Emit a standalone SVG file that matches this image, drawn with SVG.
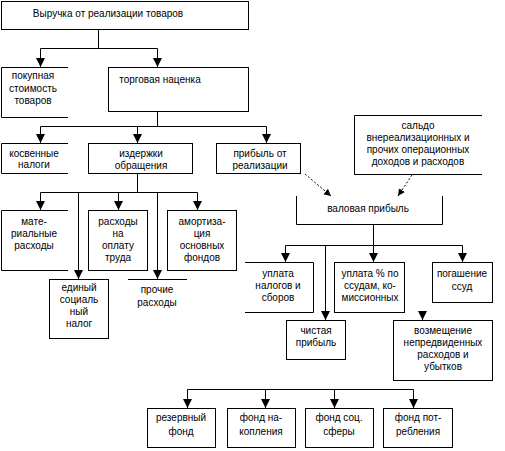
<svg xmlns="http://www.w3.org/2000/svg" width="505" height="451" viewBox="0 0 505 451">
<style>
.b{fill:none;stroke:#000;stroke-width:1}
.c{fill:none;stroke:#000;stroke-width:1}
.d{fill:none;stroke:#000;stroke-width:1;stroke-dasharray:2,2}
text{font-family:"Liberation Sans",Arial,sans-serif;font-size:10px;fill:#000;text-anchor:middle}
</style>
<defs>
<marker id="a" markerUnits="userSpaceOnUse" markerWidth="10" markerHeight="10" refX="9" refY="4.5" orient="auto">
<path d="M0,0 L9,4.5 L0,9 z" fill="#000"/>
</marker>
<marker id="s" markerUnits="userSpaceOnUse" markerWidth="8" markerHeight="8" refX="7" refY="3.5" orient="auto">
<path d="M0,0 L7,3.5 L0,7 z" fill="#000"/>
</marker>
</defs>
<rect width="505" height="451" fill="#fff"/>
<g id="connectors">
<path class="c" d="M98.5,29 V48.5 H40.5 V67" marker-end="url(#a)"/>
<path class="c" d="M98.5,48.5 H157.5 V67" marker-end="url(#a)"/>
<path class="c" d="M157.5,111 V126.5 H40.5 V143" marker-end="url(#a)"/>
<path class="c" d="M137.5,126.5 V143" marker-end="url(#a)"/>
<path class="c" d="M157.5,126.5 H266.5 V143" marker-end="url(#a)"/>
<path class="c" d="M137.5,173 V192.5 H40.5 V210" marker-end="url(#a)"/>
<path class="c" d="M118.5,192.5 V210" marker-end="url(#a)"/>
<path class="c" d="M137.5,192.5 H197.5 V210" marker-end="url(#a)"/>
<path class="c" d="M78.5,192.5 V279" marker-end="url(#a)"/>
<path class="c" d="M157.5,192.5 V279" marker-end="url(#a)"/>
<path class="d" d="M305,174 L331,196" marker-end="url(#s)"/>
<path class="d" d="M412,175 L398,196" marker-end="url(#s)"/>
<path class="c" d="M373.5,224 V245.5 H285.5 V262" marker-end="url(#a)"/>
<path class="c" d="M373.5,245.5 V262" marker-end="url(#a)"/>
<path class="c" d="M373.5,245.5 H462.5 V262" marker-end="url(#a)"/>
<path class="c" d="M325.5,245.5 V320" marker-end="url(#a)"/>
<path class="c" d="M422.5,312 V320" marker-end="url(#a)"/>
<path class="c" d="M187.5,389.5 H413.5"/>
<path class="c" d="M187.5,389.5 V408" marker-end="url(#a)"/>
<path class="c" d="M265.5,389.5 V408" marker-end="url(#a)"/>
<path class="c" d="M334.5,389.5 V408" marker-end="url(#a)"/>
<path class="c" d="M413.5,389.5 V408" marker-end="url(#a)"/>
</g>
<g id="n_vyruchka"><rect class="b" x="1.5" y="1.5" width="247" height="28"/><text x="108" y="17">Выручка от реализации товаров</text></g>
<g id="n_pokupnaya"><path class="b" d="M68,67.5 H1.5 V117.5 H68"/><text x="33" y="79">покупная</text><text x="33" y="92">стоимость</text><text x="33" y="104">товаров</text></g>
<g id="n_nacenka"><rect class="b" x="108.5" y="67.5" width="140" height="44"/><text x="160" y="83">торговая наценка</text></g>
<g id="n_kosv"><path class="b" d="M68,143.5 H1.5 V173.5 H68"/><text x="34" y="157">косвенные</text><text x="34" y="168">налоги</text></g>
<g id="n_izderzhki"><rect class="b" x="88.5" y="143.5" width="104" height="30"/><text x="141" y="157">издержки</text><text x="141" y="169">обращения</text></g>
<g id="n_pribreal"><rect class="b" x="216.5" y="143.5" width="84" height="30"/><text x="260" y="157">прибыль от</text><text x="260" y="169">реализации</text></g>
<g id="n_saldo"><path class="b" d="M482,115.5 H354.5 V174.5 H482"/><text x="418" y="129">сальдо</text><text x="418" y="141">внереализационных и</text><text x="418" y="153">прочих операционных</text><text x="418" y="165">доходов и расходов</text></g>
<g id="n_valovaya"><path class="b" d="M296.5,196 V224.5 H442.5 V196"/><text x="368" y="212">валовая прибыль</text></g>
<g id="n_mater"><path class="b" d="M68,210.5 H1.5 V270.5 H68"/><text x="34" y="225">мате-</text><text x="34" y="237">риальные</text><text x="34" y="249">расходы</text></g>
<g id="n_oplata"><rect class="b" x="88.5" y="210.5" width="59" height="60"/><text x="118" y="225">расходы</text><text x="118" y="237">на</text><text x="118" y="249">оплату</text><text x="118" y="261">труда</text></g>
<g id="n_amort"><rect class="b" x="167.5" y="210.5" width="69" height="60"/><text x="202" y="225">амортиза-</text><text x="202" y="237">ция</text><text x="202" y="249">основных</text><text x="202" y="261">фондов</text></g>
<g id="n_esn"><rect class="b" x="49.5" y="279.5" width="59" height="59"/><text x="79" y="291">единый</text><text x="79" y="303">социаль</text><text x="79" y="315">ный</text><text x="79" y="327">налог</text></g>
<g id="n_prochie"><path class="b" d="M128,279.5 H187"/><text x="157" y="293">прочие</text><text x="157" y="306">расходы</text></g>
<g id="n_nalogi"><path class="b" d="M245,262.5 H313.5 V312.5 H245"/><text x="278" y="277">уплата</text><text x="278" y="289">налогов и</text><text x="278" y="301">сборов</text></g>
<g id="n_ssudy"><rect class="b" x="334.5" y="262.5" width="70" height="50"/><text x="370" y="277">уплата % по</text><text x="370" y="289">ссудам, ко-</text><text x="370" y="301">миссионных</text></g>
<g id="n_pogash"><rect class="b" x="432.5" y="262.5" width="60" height="40"/><text x="462" y="277">погашение</text><text x="462" y="290">ссуд</text></g>
<g id="n_chistaya"><rect class="b" x="286.5" y="320.5" width="59" height="39"/><text x="316" y="334">чистая</text><text x="316" y="346">прибыль</text></g>
<g id="n_vozm"><rect class="b" x="393.5" y="320.5" width="99" height="60"/><text x="443" y="334">возмещение</text><text x="443" y="346">непредвиденных</text><text x="443" y="358">расходов и</text><text x="443" y="370">убытков</text></g>
<g id="n_rezerv"><rect class="b" x="147.5" y="408.5" width="68" height="39"/><text x="181" y="421">резервный</text><text x="181" y="435">фонд</text></g>
<g id="n_nakop"><rect class="b" x="227.5" y="408.5" width="68" height="39"/><text x="261" y="421">фонд на-</text><text x="261" y="435">копления</text></g>
<g id="n_soc"><rect class="b" x="305.5" y="408.5" width="68" height="39"/><text x="339" y="421">фонд соц.</text><text x="339" y="435">сферы</text></g>
<g id="n_potr"><rect class="b" x="383.5" y="408.5" width="69" height="39"/><text x="418" y="421">фонд пот-</text><text x="418" y="435">ребления</text></g>
</svg>
